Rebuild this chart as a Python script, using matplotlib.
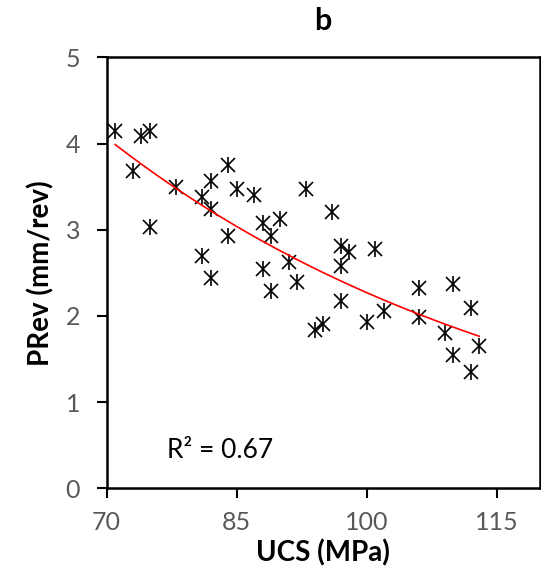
import numpy as np
import matplotlib
matplotlib.use("Agg")
import matplotlib.pyplot as plt

plt.rcParams['font.family'] = ['Lato', 'DejaVu Sans']

# UCS (MPa) and penetration rate per revolution (mm/rev)
ucs = [71, 74, 75, 73, 78, 75, 84, 82, 85, 87, 93, 81, 82, 88, 90, 89, 84, 81,
       91, 88, 82, 92, 89, 96, 97, 98, 101, 97, 97, 95, 94, 100, 102, 106, 106,
       110, 112, 109, 110, 113, 112]
prev = [4.15, 4.09, 4.15, 3.68, 3.50, 3.03, 3.75, 3.56, 3.47, 3.40, 3.47, 3.38,
        3.24, 3.08, 3.12, 2.93, 2.93, 2.69, 2.62, 2.54, 2.44, 2.39, 2.29, 3.20,
        2.81, 2.74, 2.78, 2.58, 2.17, 1.91, 1.84, 1.93, 2.06, 2.32, 1.99, 2.37,
        2.09, 1.80, 1.55, 1.65, 1.35]
r2_label = "R² = 0.67"

x = np.array(ucs, dtype=float)
y = np.array(prev, dtype=float)

# exponential trend line
b, ln_a = np.polyfit(x, np.log(y), 1)
xf = np.linspace(x.min(), x.max(), 200)
yf = np.exp(ln_a) * np.exp(b * xf)

fig = plt.figure(figsize=(5.41, 5.82), dpi=100)
ax = fig.add_axes([0.197, 0.161, 0.801, 0.7405])

ax.plot(x, y, linestyle='none', marker='x', markersize=10, color='black', mew=1.2)
ax.plot(x, y, linestyle='none', marker='|', markersize=11, color='black', mew=1.2)
ax.plot(xf, yf, color='red', linewidth=1.2)

ax.set_xlim(70, 120)
ax.set_ylim(0, 5)
ax.set_xticks([70, 85, 100, 115])
ax.set_yticks([0, 1, 2, 3, 4, 5])
ax.tick_params(direction='out', length=7, width=1.5, colors='black',
               labelcolor='#595959', labelsize=18)
ax.tick_params(axis='x', pad=9)
ax.tick_params(axis='y', pad=12)
for s in ax.spines.values():
    s.set_linewidth(1.8)
    s.set_color('black')

ax.set_xlabel("UCS (MPa)", fontsize=20, fontweight='bold', labelpad=4)
ax.set_ylabel("PRev (mm/rev)", fontsize=20, fontweight='bold', labelpad=8)
ax.set_title("b", fontsize=22, fontweight='bold', pad=20)
ax.text(0.14, 0.07, r2_label, transform=ax.transAxes, fontsize=19, color='black')

fig.savefig("out.png", dpi=100)
